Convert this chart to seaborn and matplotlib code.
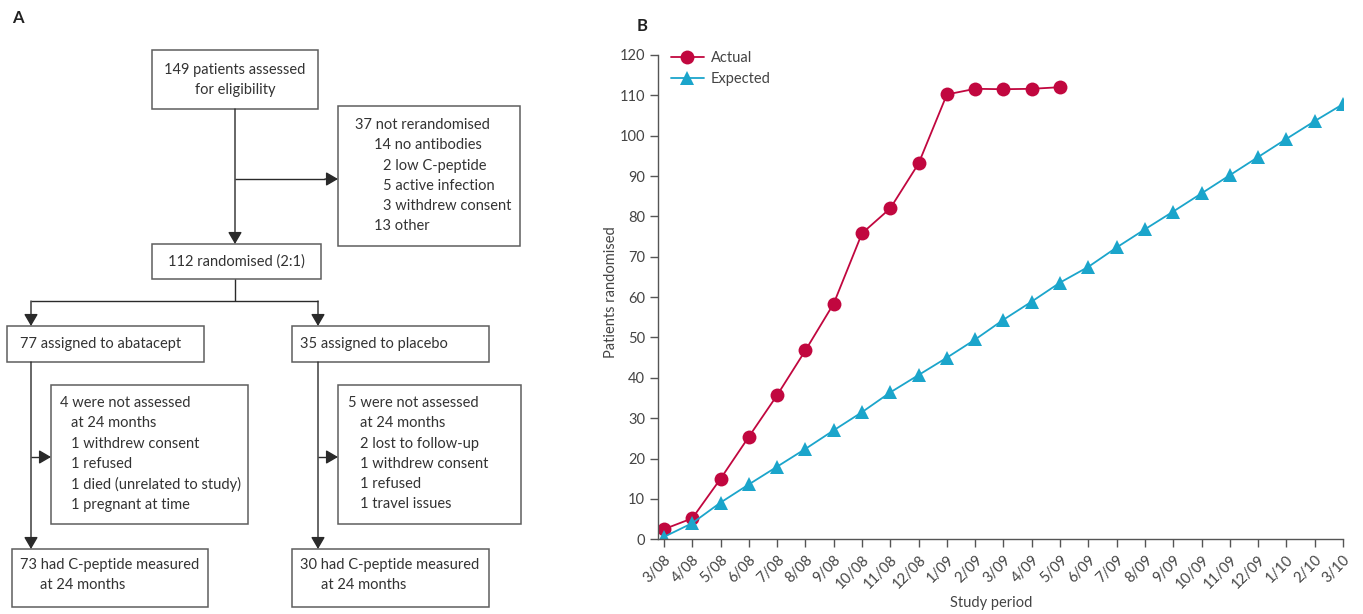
import matplotlib
matplotlib.use("Agg")
import matplotlib.pyplot as plt
from matplotlib.patches import Rectangle
import numpy as np
import pandas as pd
import seaborn as sns

# ---- recruitment data (panel B) ----
periods = ["3/08", "4/08", "5/08", "6/08", "7/08", "8/08", "9/08", "10/08", "11/08",
           "12/08", "1/09", "2/09", "3/09", "4/09", "5/09", "6/09", "7/09", "8/09",
           "9/09", "10/09", "11/09", "12/09", "1/10", "2/10", "3/10"]
actual = [2.5, 5.2, 15.0, 25.4, 35.7, 46.8, 58.4, 75.8, 82.0, 93.1, 110.2,
          111.6, 111.5, 111.6, 112.0]
expected = [0.6, 4.0, 9.1, 13.6, 18.0, 22.4, 27.0, 31.5, 36.4, 40.7, 45.0, 49.5,
            54.4, 58.9, 63.6, 67.5, 72.3, 76.8, 81.2, 85.7, 90.2, 94.7, 99.2,
            103.6, 107.8]
series_names = ["Actual", "Expected"]
series_colors = ["#C1073F", "#1BA5CB"]
y_ticks = list(range(0, 121, 10))

# ---- trial profile text (panel A) ----
screen_text = ["149 patients assessed", "for eligibility"]
excluded_text = ["37 not rerandomised", "14 no antibodies", "2 low C-peptide",
                 "5 active infection", "3 withdrew consent", "13 other"]
randomised_text = "112 randomised (2:1)"
abatacept_text = "77 assigned to abatacept"
placebo_text = "35 assigned to placebo"
abatacept_lost = ["4 were not assessed", "at 24 months", "1 withdrew consent",
                  "1 refused", "1 died (unrelated to study)", "1 pregnant at time"]
placebo_lost = ["5 were not assessed", "at 24 months", "2 lost to follow-up",
                "1 withdrew consent", "1 refused", "1 travel issues"]
abatacept_done = ["73 had C-peptide measured", "at 24 months"]
placebo_done = ["30 had C-peptide measured", "at 24 months"]

sns.set_style("ticks")
plt.rcParams["font.family"] = ["Lato", "DejaVu Sans"]

TXT = "#333333"
BOX = "#5e5e5e"
LINE = "#2a2a2a"
FS = 10.5

W, H = 1363, 614
fig = plt.figure(figsize=(W / 100, H / 100), dpi=100)

# ---------------- Panel A: flow diagram in pixel space ----------------
fa = fig.add_axes([0, 0, 1, 1])
fa.set_xlim(0, W)
fa.set_ylim(H, 0)
fa.axis("off")


def box(x0, y0, x1, y1):
    fa.add_patch(Rectangle((x0, y0), x1 - x0, y1 - y0, fill=False,
                           edgecolor=BOX, lw=1.1))


def seg(xs, ys):
    fa.plot(xs, ys, color=LINE, lw=1.0, solid_capstyle="butt")


def arrow(x0, y0, x1, y1):
    fa.annotate("", xy=(x1, y1), xytext=(x0, y0),
                arrowprops=dict(arrowstyle="-|>,head_length=0.72,head_width=0.42",
                                color=LINE, lw=1.0, shrinkA=0, shrinkB=0))


def lines(x, y, rows, indents, step=20.3):
    for i, (r, dx) in enumerate(zip(rows, indents)):
        fa.text(x + dx, y + i * step, r, fontsize=FS, color=TXT,
                ha="left", va="center")


fa.text(12, 18, "A", fontsize=12, fontweight="bold", color="#222222",
        ha="left", va="center")
fa.text(637, 26, "B", fontsize=12, fontweight="bold", color="#222222",
        ha="left", va="center")

# screening box
box(152, 50, 318, 109)
for i, r in enumerate(screen_text):
    fa.text(235, 70 + i * 20.3, r, fontsize=FS, color=TXT, ha="center", va="center")

# exclusions box
box(338, 106, 520, 246)
lines(355, 125, excluded_text, [0, 19, 28, 28, 28, 19])

# randomised box
box(152, 244, 321, 279)
fa.text(236, 262, randomised_text, fontsize=FS, color=TXT, ha="center", va="center")

# connectors top
arrow(235, 109, 235, 244)
seg([235, 325], [179, 179])
arrow(325, 179, 338, 179)

seg([235, 235], [279, 301])
seg([31, 318], [301, 301])
arrow(31, 301, 31, 326)
arrow(318, 301, 318, 326)

# allocation boxes
box(7, 326, 204, 362)
fa.text(20, 344, abatacept_text, fontsize=FS, color=TXT, ha="left", va="center")
box(292, 326, 489, 362)
fa.text(300, 344, placebo_text, fontsize=FS, color=TXT, ha="left", va="center")

# follow-up boxes
box(51, 385, 248, 524)
lines(60, 403, abatacept_lost, [0, 11, 11, 11, 11, 11])
box(338, 385, 521, 524)
lines(348, 403, placebo_lost, [0, 12, 12, 12, 12, 12])

# vertical flows
arrow(31, 362, 31, 549)
seg([31, 41], [457, 457])
arrow(41, 457, 51, 457)
arrow(318, 362, 318, 549)
seg([318, 328], [457, 457])
arrow(328, 457, 338, 457)

# analysis boxes
box(12, 549, 208, 607)
lines(20, 565, abatacept_done, [0, 20])
box(292, 549, 489, 607)
lines(300, 565, placebo_done, [0, 21])

# ---------------- Panel B: recruitment over time ----------------
rows = []
for name, vals in zip(series_names, [actual, expected]):
    for i, v in enumerate(vals):
        rows.append({"month": i, "patients": v, "series": name})
df = pd.DataFrame(rows)

ax = fig.add_axes([658.3 / W, 1 - 539.3 / H, (1343 - 658.3) / W, (539.3 - 54.9) / H])
ax.patch.set_alpha(0)
sns.lineplot(data=df, x="month", y="patients", hue="series", style="series",
             palette=dict(zip(series_names, series_colors)),
             markers={"Actual": "o", "Expected": "^"}, dashes=False,
             markersize=10, markeredgewidth=0, linewidth=1.3, ax=ax)

ax.set_xlim(-0.2, len(periods) - 1)
ax.set_ylim(0, 120)
ax.set_yticks(y_ticks)
ax.set_xticks(range(len(periods)))
ax.set_xticklabels(periods, rotation=45, ha="right", rotation_mode="anchor")
ax.tick_params(axis="both", colors="#555555", labelcolor="#444444", labelsize=FS,
               length=6, width=1.0, direction="out")
ax.tick_params(axis="x", pad=4)
for s in ("top", "right"):
    ax.spines[s].set_visible(False)
for s in ("left", "bottom"):
    ax.spines[s].set_color("#555555")
    ax.spines[s].set_linewidth(1.0)

ax.set_xlabel("Study period", fontsize=FS, color="#444444")
ax.set_ylabel("Patients randomised", fontsize=FS, color="#444444")
ax.xaxis.set_label_coords(0.486, -0.118)
ax.yaxis.set_label_coords(-0.059, 0.51)

handles, labels = ax.get_legend_handles_labels()
ax.legend(handles, labels, loc="upper left", bbox_to_anchor=(0.0, 1.035),
          frameon=False, fontsize=FS, handlelength=2.2, handletextpad=0.5,
          labelspacing=0.45, labelcolor="#444444")

fig.savefig("out.png", dpi=100)
